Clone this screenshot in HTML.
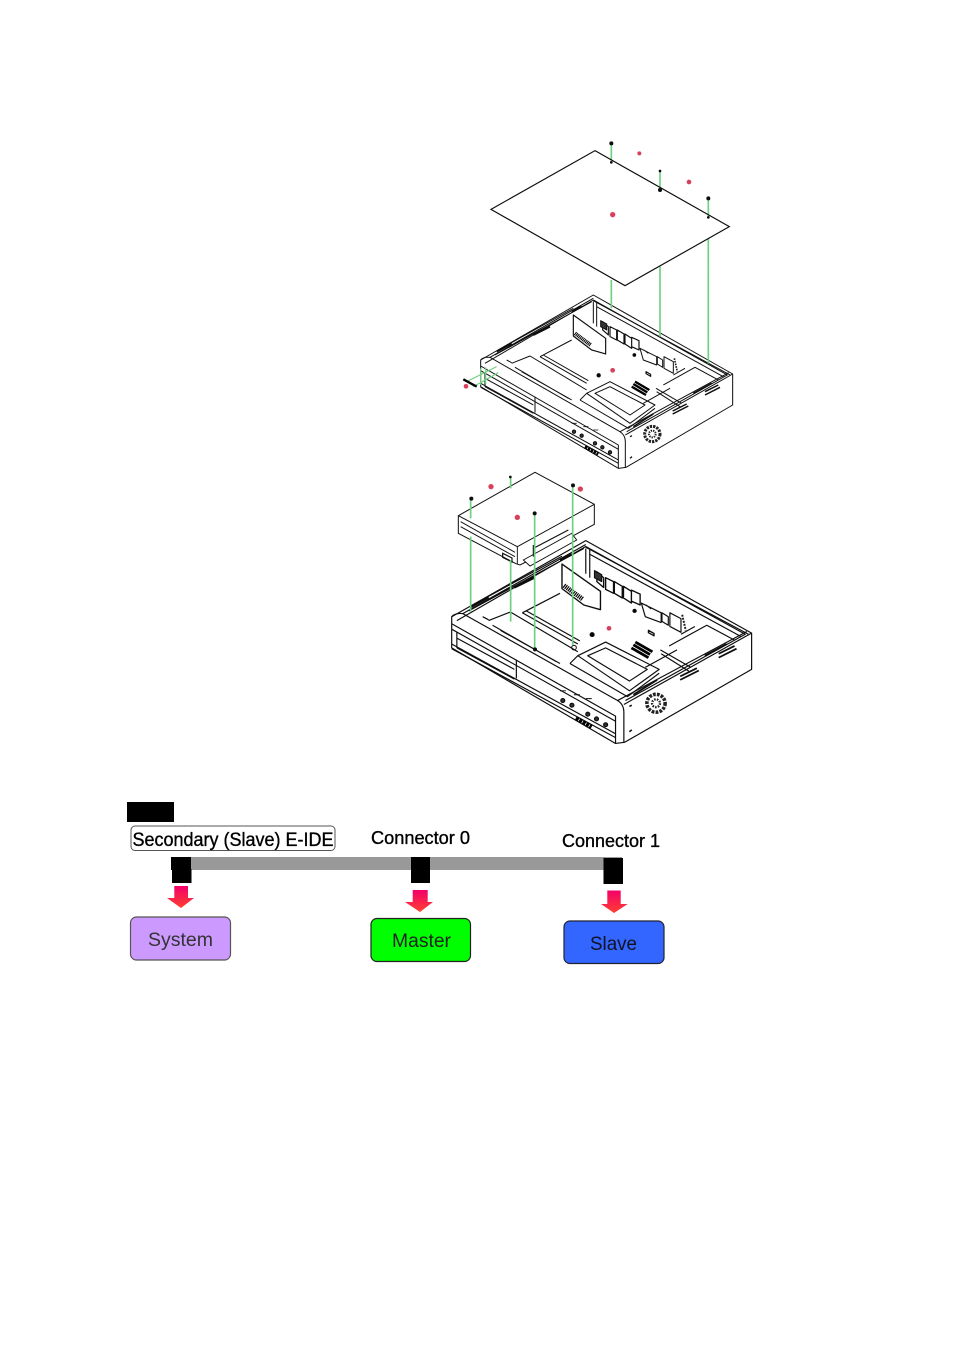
<!DOCTYPE html>
<html><head><meta charset="utf-8"><style>
html,body{margin:0;padding:0;background:#fff}
svg{display:block}
text{font-family:"Liberation Sans",sans-serif;stroke-linejoin:round}
</style></head><body>
<svg xmlns="http://www.w3.org/2000/svg" width="954" height="1349" viewBox="0 0 954 1349">
<defs>
<filter id="b" x="-5%" y="-5%" width="110%" height="110%"><feGaussianBlur stdDeviation="0.3"/></filter>
<linearGradient id="ar" x1="0" y1="0" x2="0" y2="1"><stop offset="0" stop-color="#f3006a"/><stop offset="1" stop-color="#ff4030"/></linearGradient>
<g id="chassis" fill="none" stroke="#111" stroke-width="3" stroke-linejoin="round">
<path d="M122 690L460 495L878 732V825L558 1012L535 1015L122 770Z" fill="#fff"/>
<path d="M122 690Q130 680 150 682L540 905Q556 915 556 935V1012"/>
<path d="M556 915L878 732M540 905L866 728"/>
<path d="M122 708L535 945V1015"/>
<path d="M122 722L535 958"/>
<path d="M122 772L535 1000M122 760L535 990"/>
<path d="M135 700L460 510L862 735L560 905"/>
<path d="M150 682L460 505M165 675L455 515M175 660L400 535"/>
<path d="M460 515V580M470 515V590M460 512L870 735M470 530L850 740"/>
<path d="M400 555L497 625V672L455 660L400 618Z" stroke-width="3.5"/>
<path d="M405 610L452 645" stroke="#000" stroke-width="12" stroke-dasharray="3 2"/>
<path d="M300 680L395 630M300 680L440 760M310 675L445 752M215 700L270 678L440 780M245 725L395 810M225 712L385 805M200 690L215 698"/>
<path d="M488 575L505 590V615L488 600ZM510 590L530 600V630L510 620ZM532 600L552 612V642L532 630ZM555 612L575 625V655L555 642ZM575 622L597 632V660L575 650Z" stroke-width="3.5"/>
<path d="M482 572L500 582V600L482 590Z" fill="#333"/>
<path d="M600 655L650 680V705L610 690ZM612 660L625 670M652 680L668 690V712L652 702ZM672 680L700 695V730L672 715Z" stroke-width="3"/>
<path d="M703 685L712 725" stroke="#222" stroke-width="5" stroke-dasharray="5 3"/>
<path d="M440 790L510 755L645 825L570 880ZM465 790L510 770L615 825L570 855ZM420 810L440 790M420 810L565 895L645 835" stroke-width="3"/>
<path d="M648 775L725 820M670 765L765 712L835 750M610 820L690 775M650 785L720 830M700 735L735 715"/>
<path d="M285 800V848M135 770L280 850M135 745L280 825M135 730V770"/>
<path d="M575 770L618 795M580 762L622 787M585 755L628 780" stroke="#000" stroke-width="7"/>
<path d="M795 795L840 772M795 785L835 765M698 852L745 828M698 843L740 822M760 790L815 760M580 890L640 852" stroke-width="4.5"/>
<path d="M170 665L215 640M280 615L330 590M395 545L425 530" stroke-width="6"/>
<path d="M395 880H410M430 890H445M460 900H475" stroke-width="2.5"/>
<circle cx="402" cy="905" r="5" fill="#333"/><circle cx="425" cy="917" r="5" fill="#333"/><circle cx="465" cy="940" r="5" fill="#333"/><circle cx="487" cy="952" r="5" fill="#333"/><circle cx="510" cy="967" r="5" fill="#333"/>
<path d="M435 950L475 972" stroke="#000" stroke-width="11" stroke-dasharray="8 2"/>
<circle cx="476" cy="736" r="5" fill="#000"/><circle cx="583" cy="675" r="4" fill="#000"/>
<path d="M618 725l14 8v6l-14-8z" stroke-width="3.5"/>
<circle cx="637" cy="912" r="23" stroke="#222" stroke-width="9" stroke-dasharray="7 3"/>
<circle cx="637" cy="912" r="10" stroke="#222" stroke-width="6" stroke-dasharray="4 3"/>
<path d="M570 920l6-3M570 985l6-5" stroke-width="4"/>
</g>
</defs>

<g filter="url(#b)">
<g transform="translate(440 130) scale(.33333)">
<use href="#chassis"/>
<g stroke="#6fd07f" stroke-width="5" fill="none">
<path d="M514 40V95M660 125V180M805 205V262M514 450V535M660 410V620M805 325V700"/>
<path d="M80 755L170 710M100 770L175 728M122 715V765M137 712V762" stroke-width="3.5"/>
</g>
<path d="M465 62L868 290L555 467L153 238Z" fill="none" stroke="#111" stroke-width="3.5"/>
<path d="M70 748L110 770" stroke="#000" stroke-width="7"/>
<g fill="#111"><circle cx="514" cy="40" r="6"/><circle cx="514" cy="97" r="4"/><circle cx="660" cy="123" r="4"/><circle cx="660" cy="180" r="6"/><circle cx="805" cy="205" r="6"/><circle cx="805" cy="262" r="4"/></g>
<g fill="#d8405a"><circle cx="598" cy="70" r="6"/><circle cx="747" cy="156" r="7"/><circle cx="518" cy="254" r="8"/><circle cx="518" cy="721" r="7"/><circle cx="78" cy="769" r="7"/></g>
</g>

<g transform="translate(403.3 347.6) scale(.3967 .39)"><use href="#chassis"/></g>
<g transform="translate(440 465) scale(.33333)">
<path d="M55 152L285 22L463 118V178L400 212V225L395 222L240 300L228 296L55 205Z" fill="#fff" stroke="#111" stroke-width="3"/>
<path d="M55 152L232 245V298M232 245L463 118M62 170L225 262M62 185L225 275" fill="none" stroke="#111" stroke-width="2.8"/>
<path d="M250 285L395 205L410 225L270 303Z" fill="#fff" stroke="#111" stroke-width="2.8"/>
<path d="M280 250L385 195M280 240V275" fill="none" stroke="#111" stroke-width="3.5"/>
<path d="M188 265l28 14v12l-28-14z" fill="none" stroke="#111" stroke-width="3.5"/>
<g stroke="#6fd07f" stroke-width="5" fill="none">
<path d="M92 103V160M92 215V440M212 38V70M212 285V470M284 145V550M398 62V540"/>
</g>
<g fill="#111"><circle cx="94" cy="101" r="6"/><circle cx="211" cy="36" r="4"/><circle cx="399" cy="61" r="6"/><circle cx="284" cy="145" r="6"/><circle cx="402" cy="548" r="7" fill="none" stroke="#111" stroke-width="3"/><circle cx="285" cy="553" r="6"/></g>
<g fill="#d8405a"><circle cx="153" cy="65" r="8"/><circle cx="421" cy="72" r="8"/><circle cx="232" cy="157" r="8"/><circle cx="507" cy="490" r="7"/></g>
</g>
</g>

<rect x="127" y="802" width="47" height="20" fill="#000"/>
<rect x="131" y="826" width="204" height="24.5" rx="4" fill="#fff" stroke="#555" stroke-width="1"/>
<text x="132.5" y="846" font-size="19" textLength="201" lengthAdjust="spacingAndGlyphs" fill="#000" stroke="#000" stroke-width=".35">Secondary (Slave) E-IDE</text>
<text x="371" y="844" font-size="18" textLength="99" lengthAdjust="spacingAndGlyphs" fill="#000" stroke="#000" stroke-width=".35">Connector 0</text>
<text x="562" y="847" font-size="18" textLength="98" lengthAdjust="spacingAndGlyphs" fill="#000" stroke="#000" stroke-width=".35">Connector 1</text>

<rect x="190" y="857" width="432" height="13" fill="#999"/>
<rect x="171" y="857" width="20" height="13" fill="#000"/><rect x="172" y="869" width="19.5" height="14" fill="#000"/>
<rect x="411" y="857" width="19" height="26" fill="#000"/>
<rect x="603.5" y="858" width="19.5" height="26" fill="#000"/>

<path d="M174.3 886H188V898H194L181 908L167 898H174.3Z" fill="url(#ar)"/>
<path d="M412.7 890H427.7V902H433L420 912L405 902H412.7Z" fill="url(#ar)"/>
<path d="M607.3 890.5H620.7V904H627.7L614 913L601 904H607.3Z" fill="url(#ar)"/>

<rect x="130.5" y="917" width="100" height="43" rx="6" fill="#cc99ff" stroke="#555" stroke-width="1.2"/>
<rect x="371" y="918.5" width="99.5" height="43" rx="6" fill="#00ff00" stroke="#222" stroke-width="1.2"/>
<rect x="564" y="921" width="100" height="42.5" rx="6" fill="#3366ff" stroke="#223" stroke-width="1.2"/>
<text x="148" y="946" font-size="19" textLength="65" lengthAdjust="spacingAndGlyphs" fill="#333">System</text>
<text x="392" y="947" font-size="19" textLength="59" lengthAdjust="spacingAndGlyphs" fill="#222">Master</text>
<text x="590" y="950" font-size="19" textLength="47" lengthAdjust="spacingAndGlyphs" fill="#112">Slave</text>
</svg>
</body></html>
